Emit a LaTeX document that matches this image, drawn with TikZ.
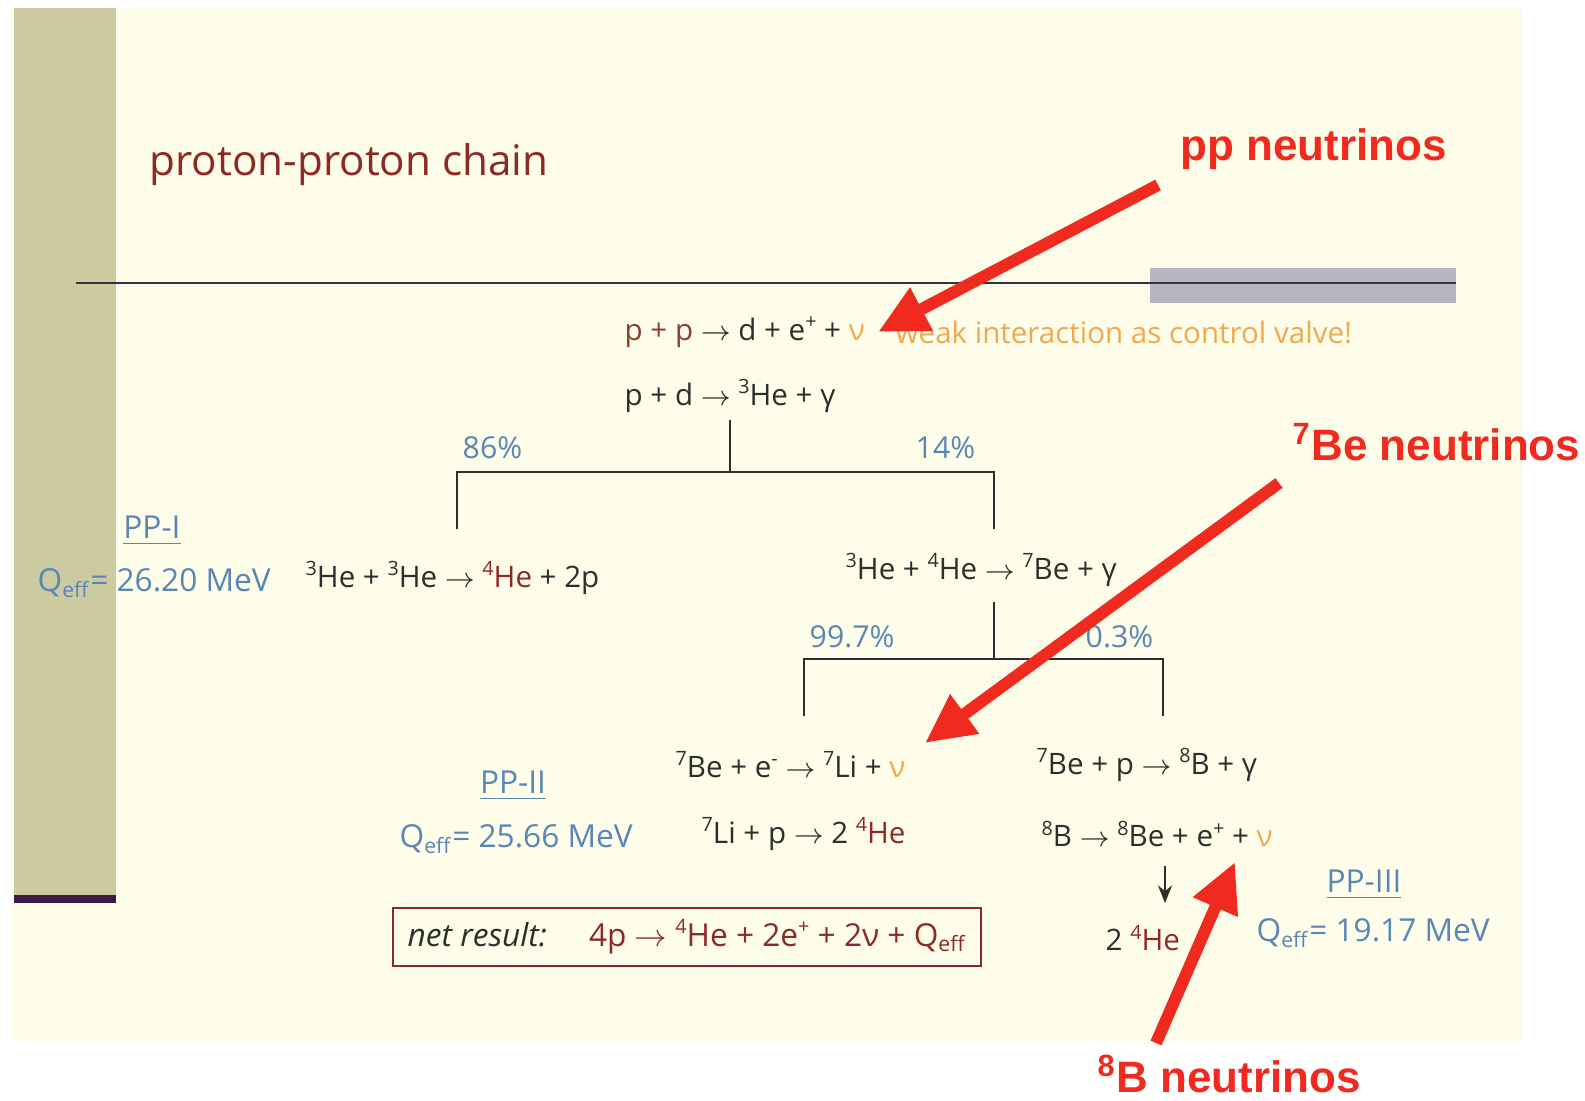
\documentclass[tikz,border=0pt]{standalone}
\usepackage{fontspec}
\setmainfont{Open Sans}
\newfontfamily\calloutfont{Liberation Sans}
\usetikzlibrary{arrows.meta}

\definecolor{cream}{HTML}{FDFDEA}
\definecolor{olive}{HTML}{CCCAA0}
\definecolor{barline}{HTML}{3D1A45}
\definecolor{greybar}{HTML}{B7B5C2}
\definecolor{ruleline}{HTML}{3C2F45}
\definecolor{ink}{HTML}{2E2E2E}
\definecolor{eqred}{HTML}{8E2A24}
\definecolor{ppred}{HTML}{8A4030}
\definecolor{chainblue}{HTML}{5A86B6}
\definecolor{nuorange}{HTML}{F2A94E}
\definecolor{pointred}{HTML}{F02A1E}

\newcommand{\sups}[1]{\raisebox{0.75ex}{\fontsize{5.6}{6}\selectfont #1}}
\newcommand{\iso}[2]{\sups{#1}#2}
\newcommand{\goes}{$\rightarrow$}
\newcommand{\neu}{{\color{nuorange}ν}}
\newcommand{\qeff}{Q\textsubscript{eff}}
\newcommand{\branch}[4]{\draw[stem] (#1) -- (#1 |- #2);
	\draw[stem] (#3) -- (#3 |- #2) -- (#4 |- #2) -- (#4)}

\tikzset{
	eq/.style={inner sep=0pt, anchor=west, text=ink, font=\fontsize{8.4}{10}\selectfont},
	pct/.style={inner sep=0pt, anchor=west, text=chainblue, font=\fontsize{8.6}{10}\selectfont},
	chain/.style={inner sep=0pt, text=chainblue, font=\fontsize{9}{11}\selectfont},
	callout/.style={inner sep=0pt, anchor=base west, text=pointred, font=\calloutfont\bfseries\fontsize{12.5}{15}\selectfont},
	stem/.style={draw=ink, line width=0.7pt},
	pointer/.style={draw=pointred, line width=3.4pt, -{Triangle[length=14pt,width=13pt]}}
}

\begin{document}
\begin{tikzpicture}[x=0.01cm, y=-0.01cm]
%Slide
	\useasboundingbox (0,0) rectangle (1585,1100);
	\fill[white] (0,0) rectangle (1585,1100);
	\fill[cream] (12,8) rectangle (1522,1041);
	\fill[olive] (14,8) rectangle (116,895);
	\fill[barline] (14,895) rectangle (116,903);
	\fill[greybar] (1150,268) rectangle (1456,303);
	\draw[ruleline, line width=0.6pt] (76,283) -- (1456,283);
	\node[inner sep=0pt, anchor=west, text=eqred, font=\fontsize{12}{14}\selectfont] (title) at (149,165) {proton-proton chain};
%Reactions
	\node[eq] (pp) at (624,332) {{\color{ppred}p + p} \goes{} d + e\sups{+} + \neu};
	\node[eq, text=nuorange] (valve) at (895,332) {weak interaction as control valve!};
	\node[eq] (pd) at (624,396) {p + d \goes{} \iso{3}{He} + γ};
	\node[eq] (hethree) at (305,578) {\iso{3}{He} + \iso{3}{He} \goes{} {\color{eqred}\iso{4}{He}} + 2p};
	\node[eq] (hefour) at (845,570) {\iso{3}{He} + \iso{4}{He} \goes{} \iso{7}{Be} + γ};
	\node[eq] (becap) at (675,765) {\iso{7}{Be} + e\sups{-} \goes{} \iso{7}{Li} + \neu};
	\node[eq] (bep) at (1036,765) {\iso{7}{Be} + p \goes{} \iso{8}{B} + γ};
	\node[eq] (lip) at (701,834) {\iso{7}{Li} + p \goes{} 2 {\color{eqred}\iso{4}{He}}};
	\node[eq] (bdecay) at (1041,834) {\iso{8}{B} \goes{} \iso{8}{Be} + e\sups{+} + \neu};
	\node[eq] (hetwo) at (1105,938) {2 {\color{eqred}\iso{4}{He}}};
%Branches
	\coordinate (topone) at (730,420);
	\coordinate (barone) at (730,472);
	\coordinate (leftone) at (457,529);
	\coordinate (rightone) at (994,529);
	\branch{topone}{barone}{leftone}{rightone};
	\node[pct] (pcA) at (462,448) {86\%};
	\node[pct] (pcB) at (915,448) {14\%};
%
	\coordinate (toptwo) at (994,602);
	\coordinate (bartwo) at (994,659);
	\coordinate (lefttwo) at (804,716);
	\coordinate (righttwo) at (1163,716);
	\branch{toptwo}{bartwo}{lefttwo}{righttwo};
	\node[pct] (pcC) at (809,637) {99.7\%};
	\node[pct] (pcD) at (1085,637) {0.3\%};
%
	\coordinate (dtop) at (1165,866);
	\coordinate (dbot) at (1165,903);
	\draw[stem, -{Stealth[length=5pt,width=4pt]}] (dtop) -- (dbot);
%Chains
	\node[chain] (ppone) at (152,531) {\underline{PP-I}};
	\node[chain, anchor=west] (qone) at (37,583) {\qeff= 26.20 MeV};
	\node[chain] (pptwo) at (513,786) {\underline{PP-II}};
	\node[chain, anchor=west] (qtwo) at (399,839) {\qeff= 25.66 MeV};
	\node[chain] (ppthree) at (1364,885) {\underline{PP-III}};
	\node[chain, anchor=west] (qthree) at (1256,933) {\qeff= 19.17 MeV};
%Net result
	\node[draw=eqred, line width=0.6pt, minimum width=167pt, minimum height=16.5pt, inner sep=0pt,
		font=\fontsize{9}{11}\selectfont, text=ink] (net) at (687,937)
		{\textit{net result:}\hspace{12pt}{\color{eqred}4p \goes{} \iso{4}{He} + 2e\sups{+} + 2ν + \qeff}};
%Neutrino pointers
	\node[callout] (pplab) at (1180,160) {pp neutrinos};
	\node[callout] (belab) at (1292,460) {\textsuperscript{7}Be neutrinos};
	\node[callout] (blab) at (1097,1092) {\textsuperscript{8}B neutrinos};
	\coordinate (pptail) at (1158,185);
	\coordinate (pptip) at (878,332);
	\coordinate (betail) at (1279,483);
	\coordinate (betip) at (925,743);
	\coordinate (btail) at (1156,1043);
	\coordinate (btip) at (1235,862);
	\draw[pointer] (pptail) -- (pptip);
	\draw[pointer] (betail) -- (betip);
	\draw[pointer] (btail) -- (btip);
\end{tikzpicture}
\end{document}
